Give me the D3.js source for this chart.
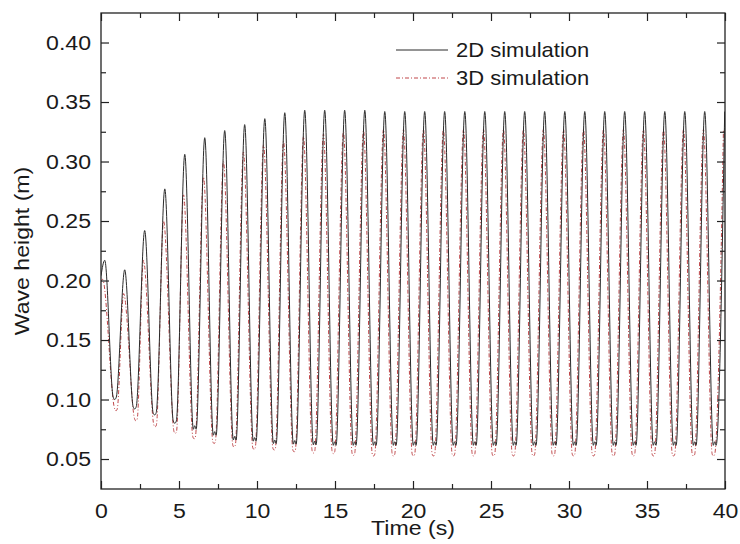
<!DOCTYPE html>
<html>
<head>
<meta charset="utf-8">
<script src="https://cdn.jsdelivr.net/npm/d3@7"></script>
<style>
  body { margin: 0; background: #fff; }
  text { font-family: "Liberation Sans", Arial, sans-serif; fill: #1a1a1a; }
</style>
</head>
<body>
<svg id="chart" width="740" height="544"></svg>
<script>
// wave height: [time (s), height (m)]
const wave2D = [
  [0.00, 0.204], [0.24, 0.217],
  [0.78, 0.102], [0.88, 0.100], [0.98, 0.102], [1.52, 0.209],
  [2.06, 0.094], [2.16, 0.092], [2.26, 0.094], [2.80, 0.242],
  [3.34, 0.089], [3.44, 0.087], [3.54, 0.089], [4.09, 0.277],
  [4.63, 0.082], [4.73, 0.080], [4.83, 0.082], [5.37, 0.306],
  [5.92, 0.075], [6.01, 0.078], [6.10, 0.075], [6.65, 0.320],
  [7.20, 0.070], [7.29, 0.073], [7.38, 0.070], [7.93, 0.326],
  [8.48, 0.066], [8.57, 0.069], [8.66, 0.066], [9.21, 0.331],
  [9.76, 0.065], [9.85, 0.068], [9.94, 0.065], [10.50, 0.336],
  [11.05, 0.063], [11.14, 0.066], [11.23, 0.063], [11.78, 0.341],
  [12.33, 0.0625], [12.42, 0.0655], [12.51, 0.0625], [13.06, 0.343],
  [13.61, 0.062], [13.70, 0.065], [13.79, 0.062], [14.34, 0.343],
  [14.89, 0.0615], [14.98, 0.0645], [15.07, 0.0615], [15.62, 0.343],
  [16.17, 0.0615], [16.26, 0.0645], [16.35, 0.0615], [16.91, 0.343],
  [17.46, 0.0615], [17.55, 0.0645], [17.64, 0.0615], [18.19, 0.342],
  [18.74, 0.0615], [18.83, 0.0645], [18.92, 0.0615], [19.47, 0.342],
  [20.02, 0.0615], [20.11, 0.0645], [20.20, 0.0615], [20.75, 0.342],
  [21.30, 0.0615], [21.39, 0.0645], [21.48, 0.0615], [22.03, 0.342],
  [22.58, 0.0615], [22.67, 0.0645], [22.76, 0.0615], [23.32, 0.342],
  [23.87, 0.0615], [23.96, 0.0645], [24.05, 0.0615], [24.60, 0.342],
  [25.15, 0.0615], [25.24, 0.0645], [25.33, 0.0615], [25.88, 0.342],
  [26.43, 0.0615], [26.52, 0.0645], [26.61, 0.0615], [27.16, 0.342],
  [27.71, 0.0615], [27.80, 0.0645], [27.89, 0.0615], [28.44, 0.342],
  [28.99, 0.0615], [29.08, 0.0645], [29.17, 0.0615], [29.73, 0.342],
  [30.28, 0.0615], [30.37, 0.0645], [30.46, 0.0615], [31.01, 0.342],
  [31.56, 0.0615], [31.65, 0.0645], [31.74, 0.0615], [32.29, 0.342],
  [32.84, 0.0615], [32.93, 0.0645], [33.02, 0.0615], [33.57, 0.342],
  [34.12, 0.0615], [34.21, 0.0645], [34.30, 0.0615], [34.85, 0.342],
  [35.40, 0.0615], [35.49, 0.0645], [35.58, 0.0615], [36.14, 0.342],
  [36.69, 0.0615], [36.78, 0.0645], [36.87, 0.0615], [37.42, 0.342],
  [37.97, 0.0615], [38.06, 0.0645], [38.15, 0.0615], [38.70, 0.342],
  [39.25, 0.0615], [39.34, 0.0645], [39.43, 0.0615], [39.98, 0.342]
];

const wave3D = [
  [0.00, 0.199], [0.10, 0.201],
  [0.88, 0.092], [0.96, 0.0905], [1.04, 0.092], [1.45, 0.189],
  [2.16, 0.0835], [2.24, 0.082], [2.32, 0.0835], [2.72, 0.217],
  [3.39, 0.0785], [3.47, 0.077], [3.55, 0.0785], [4.01, 0.250],
  [4.68, 0.073], [4.76, 0.0715], [4.84, 0.073], [5.29, 0.272],
  [5.89, 0.0685], [5.97, 0.067], [6.05, 0.0685], [6.57, 0.287],
  [7.17, 0.0645], [7.25, 0.063], [7.33, 0.0645], [7.85, 0.300],
  [8.45, 0.0615], [8.53, 0.060], [8.61, 0.0615], [9.13, 0.308],
  [9.73, 0.0595], [9.81, 0.058], [9.89, 0.0595], [10.42, 0.314],
  [11.02, 0.059], [11.10, 0.0575], [11.18, 0.059], [11.70, 0.317],
  [12.30, 0.0575], [12.38, 0.056], [12.46, 0.0575], [12.98, 0.321],
  [13.54, 0.0565], [13.62, 0.055], [13.70, 0.0565], [14.26, 0.323],
  [14.82, 0.056], [14.90, 0.0545], [14.98, 0.056], [15.54, 0.325],
  [16.10, 0.0545], [16.18, 0.053], [16.26, 0.0545], [16.83, 0.326],
  [17.39, 0.054], [17.47, 0.0525], [17.55, 0.054], [18.11, 0.327],
  [18.67, 0.054], [18.75, 0.0525], [18.83, 0.054], [19.39, 0.327],
  [19.95, 0.054], [20.03, 0.0525], [20.11, 0.054], [20.67, 0.327],
  [21.23, 0.054], [21.31, 0.0525], [21.39, 0.054], [21.95, 0.327],
  [22.51, 0.054], [22.59, 0.0525], [22.67, 0.054], [23.24, 0.327],
  [23.80, 0.054], [23.88, 0.0525], [23.96, 0.054], [24.52, 0.327],
  [25.08, 0.054], [25.16, 0.0525], [25.24, 0.054], [25.80, 0.327],
  [26.36, 0.054], [26.44, 0.0525], [26.52, 0.054], [27.08, 0.327],
  [27.64, 0.054], [27.72, 0.0525], [27.80, 0.054], [28.36, 0.327],
  [28.92, 0.054], [29.00, 0.0525], [29.08, 0.054], [29.65, 0.327],
  [30.21, 0.054], [30.29, 0.0525], [30.37, 0.054], [30.93, 0.327],
  [31.49, 0.054], [31.57, 0.0525], [31.65, 0.054], [32.21, 0.327],
  [32.77, 0.054], [32.85, 0.0525], [32.93, 0.054], [33.49, 0.327],
  [34.05, 0.054], [34.13, 0.0525], [34.21, 0.054], [34.77, 0.327],
  [35.33, 0.054], [35.41, 0.0525], [35.49, 0.054], [36.06, 0.327],
  [36.62, 0.054], [36.70, 0.0525], [36.78, 0.054], [37.34, 0.327],
  [37.90, 0.054], [37.98, 0.0525], [38.06, 0.054], [38.62, 0.327],
  [39.18, 0.054], [39.26, 0.0525], [39.34, 0.054], [39.90, 0.327]
];

const seriesNames = ["2D simulation", "3D simulation"];
const xMajorTicks = [0, 5, 10, 15, 20, 25, 30, 35, 40];
const xMinorTicks = [2.5, 7.5, 12.5, 17.5, 22.5, 27.5, 32.5, 37.5];
const yMajorTicks = [0.05, 0.10, 0.15, 0.20, 0.25, 0.30, 0.35, 0.40];
const yMinorTicks = [0.075, 0.125, 0.175, 0.225, 0.275, 0.325, 0.375];

const svg = d3.select("#chart");
const margin = { top: 13, right: 15, bottom: 55, left: 101 };
const width = +svg.attr("width") - margin.left - margin.right,
      height = +svg.attr("height") - margin.top - margin.bottom;

const x = d3.scaleLinear().domain([0, 40]).range([0, width]);
const y = d3.scaleLinear().domain([0.0248, 0.4248]).range([height, 0]);

const g = svg.append("g").attr("transform", `translate(${margin.left},${margin.top})`);

g.append("clipPath").attr("id", "plotClip")
  .append("rect").attr("width", width).attr("height", height);

const line = d3.line()
  .x(d => x(d[0]))
  .y(d => y(d[1]))
  .curve(d3.curveMonotoneX);

const plot = g.append("g").attr("clip-path", "url(#plotClip)");

plot.append("path").datum(wave3D)
  .attr("fill", "none")
  .attr("stroke", "#c0474a")
  .attr("stroke-width", 1)
  .attr("stroke-dasharray", "4,2,1,2")
  .attr("d", line);

plot.append("path").datum(wave2D)
  .attr("fill", "none")
  .attr("stroke", "#2a2a2a")
  .attr("stroke-width", 1)
  .attr("d", line);

// axes: ticks point inward, mirrored on top and right
const major = 8, minor = 5, sx = 1.1;
const fmtY = d3.format(".2f");

function styleAxis(sel) {
  sel.select(".domain").remove();
  sel.selectAll(".tick line").attr("stroke", "#222").attr("stroke-width", 1.2);
}

g.append("g").attr("transform", `translate(0,${height})`)
  .call(d3.axisBottom(x).tickValues(xMajorTicks).tickSizeInner(-major).tickSizeOuter(0).tickPadding(14).tickFormat(d3.format("d")))
  .call(styleAxis)
  .call(s => s.selectAll("text")
    .attr("font-size", 21)
    .attr("transform", `scale(${sx},1)`));
g.append("g").attr("transform", `translate(0,${height})`)
  .call(d3.axisBottom(x).tickValues(xMinorTicks).tickSizeInner(-minor).tickSizeOuter(0).tickFormat(""))
  .call(styleAxis);
g.append("g")
  .call(d3.axisTop(x).tickValues(xMajorTicks).tickSizeInner(-major).tickSizeOuter(0).tickFormat(""))
  .call(styleAxis);
g.append("g")
  .call(d3.axisTop(x).tickValues(xMinorTicks).tickSizeInner(-minor).tickSizeOuter(0).tickFormat(""))
  .call(styleAxis);

g.append("g")
  .call(d3.axisLeft(y).tickValues(yMajorTicks).tickSizeInner(-major).tickSizeOuter(0).tickPadding(10).tickFormat(fmtY))
  .call(styleAxis)
  .call(s => s.selectAll("text")
    .attr("font-size", 21)
    .attr("x", -10 / sx)
    .attr("transform", `scale(${sx},1)`));
g.append("g")
  .call(d3.axisLeft(y).tickValues(yMinorTicks).tickSizeInner(-minor).tickSizeOuter(0).tickFormat(""))
  .call(styleAxis);
g.append("g").attr("transform", `translate(${width},0)`)
  .call(d3.axisRight(y).tickValues(yMajorTicks).tickSizeInner(-major).tickSizeOuter(0).tickFormat(""))
  .call(styleAxis);
g.append("g").attr("transform", `translate(${width},0)`)
  .call(d3.axisRight(y).tickValues(yMinorTicks).tickSizeInner(-minor).tickSizeOuter(0).tickFormat(""))
  .call(styleAxis);

// frame
g.append("rect")
  .attr("width", width).attr("height", height)
  .attr("fill", "none").attr("stroke", "#222").attr("stroke-width", 1.3);

// axis titles
g.append("text")
  .attr("transform", `translate(${width / 2},${height + 46}) scale(${sx},1)`)
  .attr("text-anchor", "middle")
  .attr("font-size", 21)
  .text("Time (s)");

g.append("text")
  .attr("transform", `translate(${29 - margin.left},${height / 2}) rotate(-90) scale(${sx},1)`)
  .attr("text-anchor", "middle")
  .attr("font-size", 21)
  .text("Wave height (m)");

// legend
const legend = g.append("g").attr("transform", "translate(295,37)");
const legendStyles = [
  { stroke: "#2a2a2a", dash: null },
  { stroke: "#c0474a", dash: "4,2,1,2" }
];
seriesNames.forEach((name, i) => {
  const row = legend.append("g").attr("transform", `translate(0,${i * 28})`);
  row.append("line")
    .attr("x1", 0).attr("x2", 52)
    .attr("stroke", legendStyles[i].stroke)
    .attr("stroke-width", 1)
    .attr("stroke-dasharray", legendStyles[i].dash);
  row.append("text")
    .attr("transform", `translate(60,7) scale(${sx},1)`)
    .attr("font-size", 20)
    .text(name);
});
</script>
</body>
</html>
